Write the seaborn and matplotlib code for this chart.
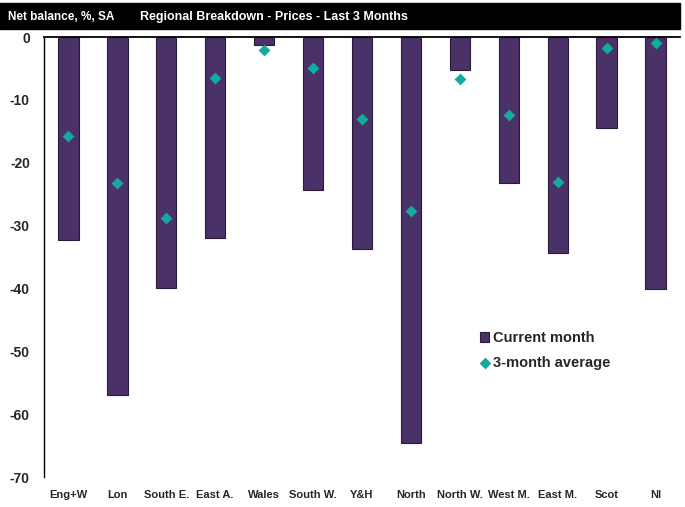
import numpy as np
import pandas as pd
import matplotlib.pyplot as plt
import seaborn as sns
from matplotlib.patches import Rectangle

regions = ['Eng+W', 'Lon', 'South E.', 'East A.', 'Wales', 'South W.', 'Y&H',
           'North', 'North W.', 'West M.', 'East M.', 'Scot', 'NI']
current_month = [-32.3, -56.9, -39.9, -32.0, -1.3, -24.3, -33.7,
                 -64.5, -5.2, -23.2, -34.3, -14.5, -40.1]
three_month_avg = [-15.7, -23.2, -28.8, -6.5, -2.1, -4.9, -13.0,
                   -27.7, -6.7, -12.4, -23.1, -1.7, -0.9]
y_ticks = [0, -10, -20, -30, -40, -50, -60, -70]

df = pd.DataFrame({'region': regions, 'current': current_month, 'avg3': three_month_avg})

sns.set_style('white')
plt.rcParams['font.family'] = ['Liberation Sans', 'DejaVu Sans']
plt.rcParams['font.weight'] = 'bold'

bar_col = '#4a3168'
dot_col = '#12aba0'

fig = plt.figure(figsize=(6.85, 5.07), dpi=100)
ax = fig.add_axes([0.064, 0.059, 0.929, 0.868])

sns.barplot(data=df, x='region', y='current', color=bar_col, width=0.42,
            edgecolor='#2a1a3a', linewidth=0.8, saturation=1,
            label='Current month', ax=ax)
sns.stripplot(data=df, x='region', y='avg3', color=dot_col, marker='D', size=6,
              jitter=False, linewidth=0, label='3-month average', ax=ax)

ax.set_ylim(-70, 0)
ax.set_xlim(-0.5, len(regions) - 0.5)
ax.set_yticks(y_ticks)
ax.set_yticklabels([str(v) for v in y_ticks], fontsize=10, fontweight='bold')
ax.tick_params(axis='x', length=0, pad=9, labelsize=8)
ax.tick_params(axis='y', length=0, pad=10)
for t in ax.get_xticklabels():
    t.set_fontweight('bold')
ax.set_xlabel('')
ax.set_ylabel('')
for s in ['right', 'bottom']:
    ax.spines[s].set_visible(False)
ax.spines['top'].set_linewidth(1.3)
ax.spines['top'].set_color('black')
ax.spines['left'].set_linewidth(1.0)
ax.spines['left'].set_color('black')

# legend: bar first, then markers
h, l = ax.get_legend_handles_labels()
keep = {}
for hh, ll in zip(h, l):
    if ll not in keep:
        keep[ll] = hh
order = ['Current month', '3-month average']
ax.legend([keep[k] for k in order], order, loc='upper left',
          bbox_to_anchor=(0.665, 0.362), frameon=False,
          handlelength=0.6, handletextpad=0.3, labelspacing=0.75,
          prop={'weight': 'bold', 'size': 10.5})

# header band
fig.patches.append(Rectangle((0, 1 - 29 / 507), 680 / 685, 26 / 507,
                             transform=fig.transFigure, color='black', zorder=0))
fig.text(8 / 685, 1 - 17 / 507, 'Net balance, %, SA', color='white',
         fontsize=8.5, fontweight='bold', va='center', ha='left')
fig.text(274 / 685, 1 - 17 / 507, 'Regional Breakdown - Prices - Last 3 Months',
         color='white', fontsize=9, fontweight='bold', va='center', ha='center')

fig.savefig('out.png', dpi=100)
